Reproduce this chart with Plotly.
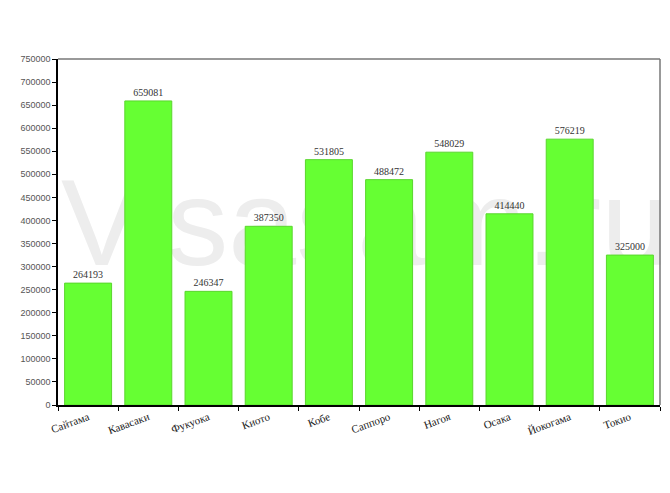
import plotly.graph_objects as go

cities = ["Сайтама", "Кавасаки", "Фукуока", "Киото", "Кобе", "Саппоро", "Нагоя", "Осака", "Йокогама", "Токио"]
values = [264193, 659081, 246347, 387350, 531805, 488472, 548029, 414440, 576219, 325000]
y_ticks = list(range(0, 750001, 50000))

fig = go.Figure()
fig.add_trace(go.Bar(
    x=cities, y=values,
    marker=dict(color="#66ff33", line=dict(color="#5ad62e", width=1)),
    text=[str(v) for v in values], textposition="outside",
    textfont=dict(family="Liberation Serif, Times New Roman, serif", size=10, color="#333333"),
    cliponaxis=False,
))

# watermark behind bars
fig.add_shape(type="rect", xref="paper", yref="paper", x0=0.0, x1=1.02, y0=0.16, y1=0.96,
              line=dict(width=0), fillcolor="rgba(0,0,0,0)", layer="below",
              label=dict(text="Visasam.ru", font=dict(family="Liberation Sans, Arial, sans-serif", size=122, color="#ededed"),
                         textposition="middle center"))
# top & right frame
fig.add_shape(type="line", xref="paper", yref="paper", x0=0, x1=1, y0=1, y1=1, line=dict(color="#777777", width=1.5))
fig.add_shape(type="line", xref="paper", yref="paper", x0=1, x1=1, y0=0, y1=1, line=dict(color="#777777", width=1.5))

fig.update_layout(
    width=670, height=493,
    margin=dict(l=50, r=18, t=51, b=96),
    paper_bgcolor="white", plot_bgcolor="white",
    showlegend=False, bargap=0.22,
    xaxis=dict(showline=True, linecolor="black", linewidth=1.5, ticks="outside", ticklen=4, tickcolor="black",
               tickson="boundaries", tickangle=-20, showgrid=False,
               tickfont=dict(family="Liberation Serif, Times New Roman, serif", size=11, color="#222222")),
    yaxis=dict(range=[0, 750000], tickvals=y_ticks, ticktext=[str(v) for v in y_ticks],
               showline=True, linecolor="black", linewidth=1.5, ticks="outside", ticklen=4, tickcolor="black",
               showgrid=False, zeroline=False,
               tickfont=dict(family="Liberation Sans, Arial, sans-serif", size=9, color="#555555")),
)

fig.write_html("out.html")
